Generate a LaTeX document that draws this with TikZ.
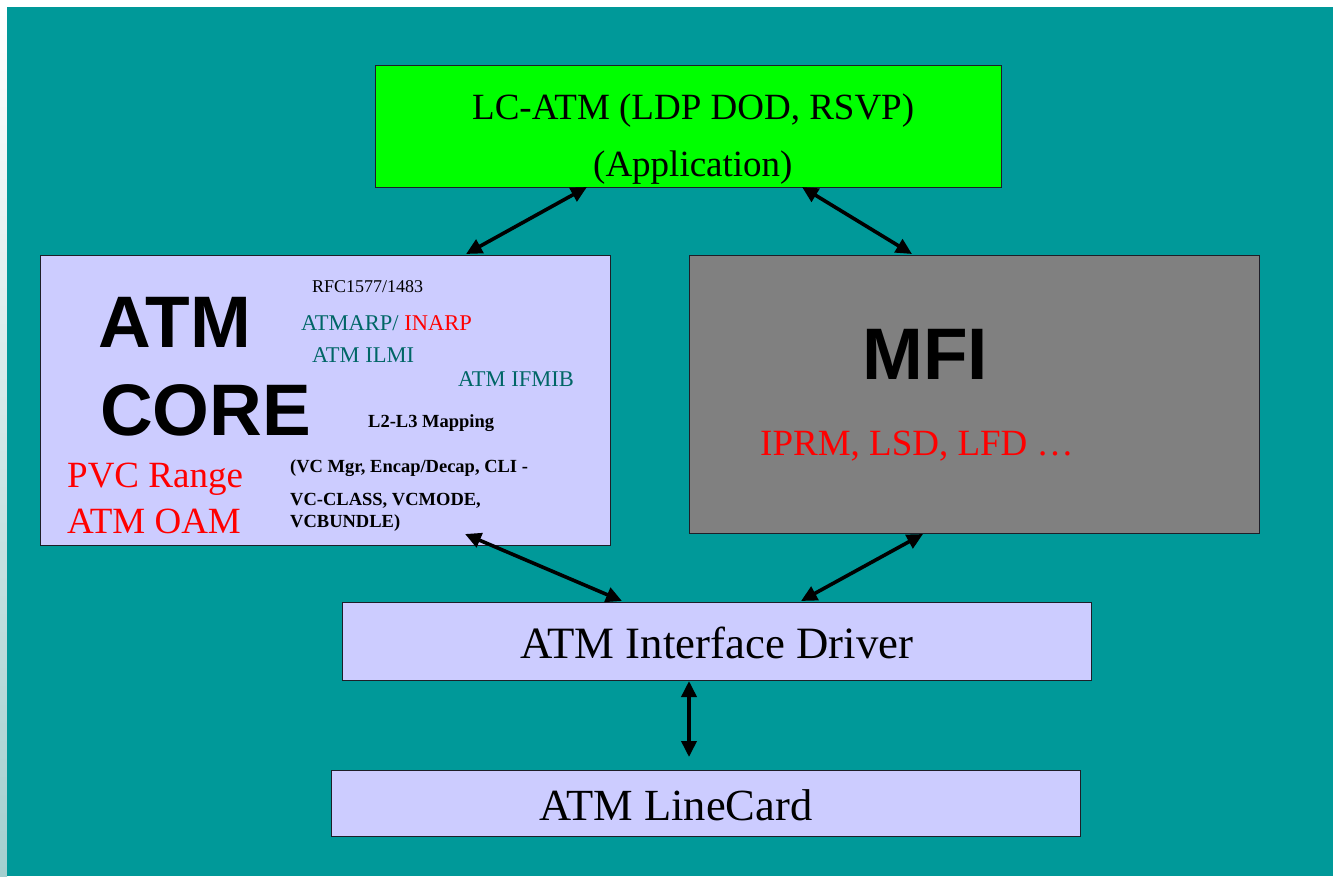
\documentclass[tikz,border=0pt]{standalone}
\usepackage{fontspec}
\setmainfont{Liberation Serif}
\setsansfont{Liberation Sans}
\usetikzlibrary{arrows.meta}
\definecolor{teal1}{RGB}{0,153,153}
\definecolor{lav}{RGB}{204,204,255}
\definecolor{appgreen}{RGB}{0,255,0}
\definecolor{mfigray}{RGB}{128,128,128}
\definecolor{dteal}{RGB}{0,102,102}
\definecolor{stripbot}{RGB}{163,207,207}
\definecolor{edge}{RGB}{30,30,40}
\newcommand{\fs}[1]{\fontsize{#1}{#1}\selectfont}
\begin{document}
\begin{tikzpicture}[x=1pt,y=-1pt,
  box/.style={draw=edge, line width=1.2pt, inner sep=0pt, anchor=north west},
  link/.style={line width=3.6pt, {Triangle[length=16pt,width=15pt]}-{Triangle[length=16pt,width=15pt]}},
  txt/.style={anchor=base west, inner sep=0pt},
  big/.style={txt, font=\fs{37}},
  huge/.style={txt, font=\sffamily\bfseries\fs{73}},
  small/.style={txt, font=\fs{22.5}, text=dteal},
  smallb/.style={txt, font=\bfseries\fs{18.5}}]
\useasboundingbox (0,0) rectangle (1333,876);
\fill[white] (0,0) rectangle (1333,7);
\shade[top color=white, bottom color=stripbot] (0,7) rectangle (7,876);
\fill[teal1] (7,7) rectangle (1333,876);

% boxes
\node[box, fill=appgreen, minimum width=626pt, minimum height=122pt] (app) at (375,65) {};
\node[box, fill=lav, minimum width=570pt, minimum height=290pt] (core) at (40,255) {};
\node[box, fill=mfigray, minimum width=570pt, minimum height=278pt] (mfi) at (689,255) {};
\node[box, fill=lav, minimum width=749pt, minimum height=78pt] (drv) at (342,602) {};
\node[box, fill=lav, minimum width=749pt, minimum height=66pt] (lc) at (331,770) {};

% texts
\node[big] (t1) at (472,119) {LC-ATM (LDP DOD, RSVP)};
\node[big] (t2) at (593,176) {(Application)};
\node[huge] (t3) at (98,347) {ATM};
\node[huge] (t4) at (100,435) {CORE};
\node[txt, font=\fs{18}] (t5) at (312,292) {RFC1577/1483};
\node[small] (t6) at (301,330) {ATMARP/ \textcolor{red}{INARP}};
\node[small] (t7) at (312,362) {ATM ILMI};
\node[small] (t8) at (458,386) {ATM IFMIB};
\node[smallb] (t9) at (368,427) {L2-L3 Mapping};
\node[smallb] (t10) at (290,472) {(VC Mgr, Encap/Decap, CLI -};
\node[smallb] (t11) at (290,505) {VC-CLASS, VCMODE,};
\node[smallb] (t12) at (290,527) {VCBUNDLE)};
\node[big, text=red] (t13) at (67,487) {PVC Range};
\node[big, text=red] (t14) at (67,533) {ATM OAM};
\node[huge] (t15) at (862,379) {MFI};
\node[big, text=red] (t16) at (760,455) {IPRM, LSD, LFD …};
\node[txt, font=\fs{44.8}] (t17) at (520,658) {ATM Interface Driver};
\node[txt, font=\fs{44.5}] (t18) at (539,820) {ATM LineCard};

% connector ends
\coordinate (a1) at (587,187);
\coordinate (b1) at (466,254);
\coordinate (a2) at (802,187);
\coordinate (b2) at (912,254);
\coordinate (a3) at (465,534);
\coordinate (b3) at (622,601);
\coordinate (a4) at (923,534);
\coordinate (b4) at (801,601);
\coordinate (a5) at (689,681);
\coordinate (b5) at (689,757);

\draw[link] (a1) -- (b1);
\draw[link] (a2) -- (b2);
\draw[link] (a3) -- (b3);
\draw[link] (a4) -- (b4);
\draw[link] (a5) -- (b5);
\end{tikzpicture}
\end{document}
